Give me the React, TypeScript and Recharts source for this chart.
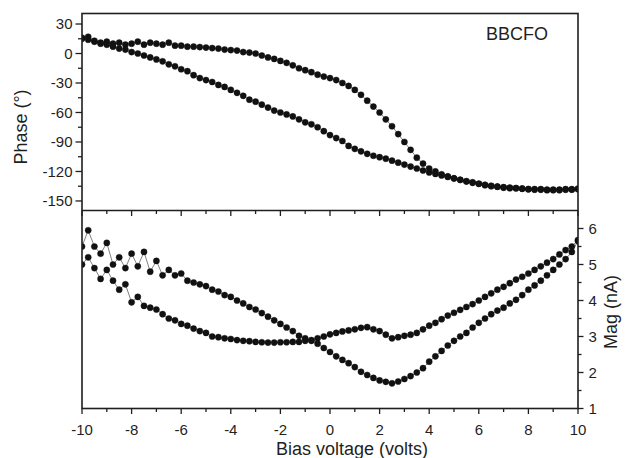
import React from 'react';
import { LineChart, Line, XAxis, YAxis } from 'recharts';

// ---------- data ----------
const VOLTS = [
  -10, -9.75, -9.5, -9.25, -9, -8.75, -8.5, -8.25, -8, -7.75, -7.5, -7.25,
  -7, -6.75, -6.5, -6.25, -6, -5.75, -5.5, -5.25, -5, -4.75, -4.5, -4.25,
  -4, -3.75, -3.5, -3.25, -3, -2.75, -2.5, -2.25, -2, -1.75, -1.5, -1.25,
  -1, -0.75, -0.5, -0.25, 0, 0.25, 0.5, 0.75, 1, 1.25, 1.5, 1.75,
  2, 2.25, 2.5, 2.75, 3, 3.25, 3.5, 3.75, 4, 4.25, 4.5, 4.75,
  5, 5.25, 5.5, 5.75, 6, 6.25, 6.5, 6.75, 7, 7.25, 7.5, 7.75,
  8, 8.25, 8.5, 8.75, 9, 9.25, 9.5, 9.75, 10,
];

const PHASE_UPPER = [
  16, 17, 13, 11, 12, 10, 11, 9, 10, 12, 9, 11,
  10, 9, 11, 8, 8, 7, 7, 6.5, 6, 5.5, 5, 4,
  3.5, 3, 1.5, 1, 0, -2, -4, -5.5, -7.5, -9.5, -12, -15,
  -17, -19, -21.5, -23.5, -25, -27, -30, -33, -37, -42, -48, -54,
  -60, -67, -74, -82, -90, -98, -106, -112, -117, -120, -123, -125,
  -127, -128.5, -130, -131, -132.5, -133.5, -134.5, -135.5, -136, -136.5, -137, -137.5,
  -138, -138, -138.5, -138.5, -139, -138.5, -138, -138.5, -138,
];

const PHASE_LOWER = [
  15, 14, 12, 10, 9, 7, 5, 4, 1.5, 0, -2, -4,
  -6, -8, -11, -13, -16, -18, -22, -25, -27, -29, -32, -34,
  -37, -40, -43, -47, -49, -52, -55, -58, -60, -62, -64, -67,
  -70, -72, -75, -79, -83, -86, -89, -94, -97, -99.5, -102, -104,
  -105.5, -107, -109, -111, -113, -115, -117, -119, -121, -122.5, -124, -125.5,
  -127, -128.5, -130, -131.5, -132.5, -134, -135, -135.5, -136.5, -137, -137, -137.5,
  -138, -138.5, -138, -139, -138.5, -139, -138.5, -138, -137.5,
];

const MAG_DEEP = [
  5.5, 5.95, 5.5, 5.3, 5.6, 5.0, 5.2, 4.9, 5.3, 4.95, 5.35, 4.8,
  5.1, 4.7, 4.85, 4.7, 4.75, 4.55, 4.5, 4.45, 4.4, 4.3, 4.25, 4.15,
  4.1, 4.0, 3.92, 3.82, 3.75, 3.65, 3.55, 3.45, 3.35, 3.25, 3.15, 3.02,
  2.95, 2.88, 2.8, 2.68, 2.57, 2.45, 2.35, 2.26, 2.15, 2.02, 1.93, 1.85,
  1.78, 1.74, 1.7, 1.75, 1.82, 1.9, 2.0, 2.12, 2.3, 2.45, 2.6, 2.75,
  2.88, 3.0, 3.1, 3.25, 3.38, 3.5, 3.62, 3.72, 3.8, 3.92, 4.02, 4.15,
  4.3, 4.42, 4.55, 4.7, 4.85, 5.0, 5.15, 5.35, 5.65,
];

const MAG_FLAT = [
  5.0, 5.2, 4.9, 4.6, 4.85, 4.55, 4.3, 4.45, 3.95, 4.1, 3.85, 3.8,
  3.75, 3.62, 3.5, 3.45, 3.35, 3.3, 3.22, 3.15, 3.1, 3.0, 2.98, 2.95,
  2.93, 2.9, 2.88, 2.87, 2.85, 2.84, 2.83, 2.83, 2.84, 2.84, 2.85, 2.85,
  2.88, 2.9, 2.95, 3.0, 3.06, 3.1, 3.14, 3.17, 3.2, 3.24, 3.26, 3.2,
  3.15, 3.05, 2.95, 2.98, 3.02, 3.05, 3.1, 3.2, 3.3, 3.38, 3.48, 3.58,
  3.66, 3.74, 3.82, 3.9, 4.0, 4.1, 4.2, 4.3, 4.38, 4.48, 4.58, 4.66,
  4.75, 4.85, 4.95, 5.05, 5.15, 5.28, 5.4, 5.5, 5.68,
];

const X_TICKS = [-10, -9, -8, -7, -6, -5, -4, -3, -2, -1, 0, 1, 2, 3, 4, 5, 6, 7, 8, 9, 10];
const PHASE_TICKS = [-150, -135, -120, -105, -90, -75, -60, -45, -30, -15, 0, 15, 30];
const MAG_TICKS = [1, 1.5, 2, 2.5, 3, 3.5, 4, 4.5, 5, 5.5, 6];

const phaseUpperData = VOLTS.map((v, i) => ({ v, y: PHASE_UPPER[i] }));
const phaseLowerData = VOLTS.map((v, i) => ({ v, y: PHASE_LOWER[i] }));
const magDeepData = VOLTS.map((v, i) => ({ v, y: MAG_DEEP[i] }));
const magFlatData = VOLTS.map((v, i) => ({ v, y: MAG_FLAT[i] }));

// ---------- layout ----------
const W = 627;
const H = 458;
const L = 82;
const R = 578;
const T = 13.5;
const MID = 210.5;
const B = 408.5;
const INK = '#1f1f1f';
const FONT = '"Liberation Sans", Arial, Helvetica, sans-serif';

const isMultiple = (v: number, m: number) => Math.abs(v / m - Math.round(v / m)) < 1e-6;

function XTick(props: any) {
  const { x, y, payload } = props;
  const v = payload.value;
  const major = isMultiple(v, 2);
  const len = major ? 5.5 : 3.5;
  const h = B - MID;
  return (
    <g>
      <line x1={x} x2={x} y1={y} y2={y + len} stroke={INK} strokeWidth={1.3} />
      <line x1={x} x2={x} y1={y - h} y2={y - h + len} stroke={INK} strokeWidth={1.3} />
      {major && (
        <text x={x} y={y + 26} textAnchor="middle" fontSize={15} fill={INK} fontFamily={FONT}>
          {v}
        </text>
      )}
    </g>
  );
}

function PhaseTick(props: any) {
  const { x, y, payload } = props;
  const v = payload.value;
  const major = isMultiple(v, 30);
  const len = major ? 6.5 : 4;
  return (
    <g>
      <line x1={x} x2={x - len} y1={y} y2={y} stroke={INK} strokeWidth={1.3} />
      {major && (
        <text x={x - 9.5} y={y + 5.2} textAnchor="end" fontSize={15} fill={INK} fontFamily={FONT}>
          {v}
        </text>
      )}
    </g>
  );
}

function MagTick(props: any) {
  const { x, y, payload } = props;
  const v = payload.value;
  const major = isMultiple(v, 1);
  const len = major ? 5.5 : 3.5;
  return (
    <g>
      <line x1={x} x2={x + len} y1={y} y2={y} stroke={INK} strokeWidth={1.3} />
      {major && (
        <text x={x + 10.5} y={y + 5.2} textAnchor="start" fontSize={15} fill={INK} fontFamily={FONT}>
          {v}
        </text>
      )}
    </g>
  );
}

const dotStyle = { r: 3.1, fill: '#111', stroke: '#111', strokeWidth: 0.4 };

export default function App() {
  return (
    <div style={{ position: 'absolute', left: 0, top: 0, width: W, height: H, background: '#fff' }}>
      {/* Top panel: Phase */}
      <div style={{ position: 'absolute', left: 0, top: 0 }}>
        <LineChart
          width={W}
          height={H}
          margin={{ top: T, bottom: H - MID, left: L - 60, right: W - R }}
        >
          <XAxis dataKey="v" type="number" domain={[-10, 10]} hide allowDataOverflow />
          <YAxis
            type="number"
            domain={[-159.7, 40.7]}
            ticks={PHASE_TICKS}
            interval={0}
            width={60}
            axisLine={false}
            tickLine={false}
            tickSize={0}
            tickMargin={0}
            tick={(p: any) => <PhaseTick {...p} />}
            allowDataOverflow
          />
          <Line data={phaseUpperData} dataKey="y" stroke="#808080" strokeWidth={1} dot={dotStyle} activeDot={false} isAnimationActive={false} />
          <Line data={phaseLowerData} dataKey="y" stroke="#808080" strokeWidth={1} dot={dotStyle} activeDot={false} isAnimationActive={false} />
        </LineChart>
      </div>

      {/* Bottom panel: Magnitude */}
      <div style={{ position: 'absolute', left: 0, top: 0 }}>
        <LineChart
          width={W}
          height={H}
          margin={{ top: MID, bottom: 0, left: L, right: 0 }}
        >
          <XAxis
            dataKey="v"
            type="number"
            domain={[-10, 10]}
            ticks={X_TICKS}
            interval={0}
            height={H - B}
            axisLine={false}
            tickLine={false}
            tickSize={0}
            tickMargin={0}
            tick={(p: any) => <XTick {...p} />}
            allowDataOverflow
          />
          <YAxis
            orientation="right"
            type="number"
            domain={[1, 6.5]}
            ticks={MAG_TICKS}
            interval={0}
            width={W - R}
            axisLine={false}
            tickLine={false}
            tickSize={0}
            tickMargin={0}
            tick={(p: any) => <MagTick {...p} />}
            allowDataOverflow
          />
          <Line data={magDeepData} dataKey="y" stroke="#808080" strokeWidth={1} dot={dotStyle} activeDot={false} isAnimationActive={false} />
          <Line data={magFlatData} dataKey="y" stroke="#808080" strokeWidth={1} dot={dotStyle} activeDot={false} isAnimationActive={false} />
        </LineChart>
      </div>

      {/* Frame, titles */}
      <svg
        width={W}
        height={H}
        style={{ position: 'absolute', left: 0, top: 0, pointerEvents: 'none' }}
      >
        <rect x={L} y={T} width={R - L} height={B - T} fill="none" stroke={INK} strokeWidth={1.6} />
        <line x1={L} x2={R} y1={MID} y2={MID} stroke={INK} strokeWidth={1.6} />
        <text x={517} y={39.5} textAnchor="middle" fontSize={18} fill={INK} fontFamily={FONT}>
          BBCFO
        </text>
        <text
          x={27}
          y={127}
          textAnchor="middle"
          fontSize={18}
          fill={INK}
          fontFamily={FONT}
          transform="rotate(-90, 27, 127)"
        >
          Phase (°)
        </text>
        <text
          x={617}
          y={312}
          textAnchor="middle"
          fontSize={18}
          fill={INK}
          fontFamily={FONT}
          transform="rotate(-90, 617, 312)"
        >
          Mag (nA)
        </text>
        <text x={352} y={454.5} textAnchor="middle" fontSize={18} fill={INK} fontFamily={FONT}>
          Bias voltage (volts)
        </text>
      </svg>
    </div>
  );
}
